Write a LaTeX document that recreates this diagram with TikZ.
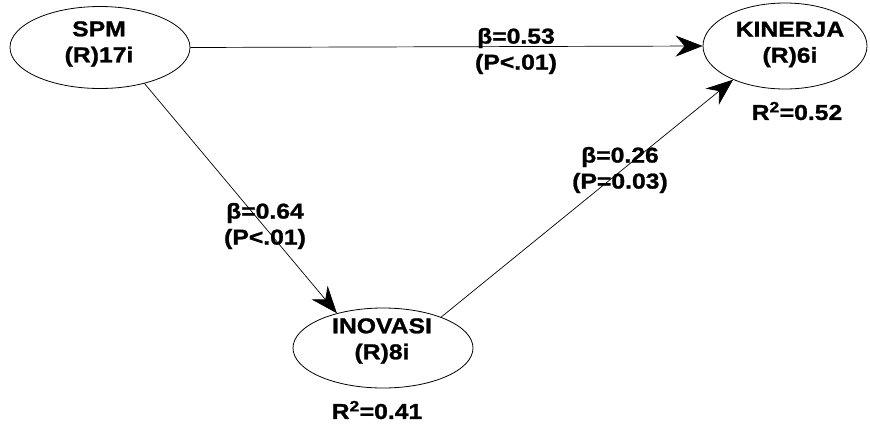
\documentclass[tikz,border=0pt]{standalone}
\usepackage{fontspec}
\setmainfont{Liberation Sans}[FakeStretch=1.15,BoldFeatures={FakeBold=1.2}]
\usetikzlibrary{shapes.geometric,arrows.meta}
\begin{document}
\begin{tikzpicture}[x=1pt,y=-1pt,
  lat/.style={ellipse,draw=black,line width=0.8pt,inner sep=0pt},
  txt/.style={font=\fontsize{21.5}{26}\selectfont\bfseries,align=center,inner sep=0pt},
  path/.style={draw=black,line width=0.7pt,-{Stealth[length=27pt,width=21pt,inset=9pt]}}]
\useasboundingbox (0,0) rectangle (870,424);
\node[lat,minimum width=180pt,minimum height=82pt] (spm) at (100,47.5) {};
\node[lat,minimum width=164pt,minimum height=86pt] (kin) at (785,46) {};
\node[lat,minimum width=180pt,minimum height=80pt] (inov) at (383,348) {};
\node[txt] (spmt) at (99,44) {SPM\\(R)17i};
\node[txt] (kint) at (790,44.5) {KINERJA\\(R)6i};
\node[txt] (inovt) at (382,341) {INOVASI\\(R)8i};
\node[txt] (r1) at (797,111) {R\textsuperscript{2}=0.52};
\node[txt] (r2) at (377,410) {R\textsuperscript{2}=0.41};
\draw[path] (spm.0) -- (kin.180);
\draw[path] (spm.-39.5) -- (inov.143);
\draw[path] (inov.28.7) -- (kin.213.4);
\node[txt] (l1) at (516,51) {β=0.53\\(P<.01)};
\node[txt] (l2) at (620,170) {β=0.26\\(P=0.03)};
\node[txt] (l3) at (265,226) {β=0.64\\(P<.01)};
\end{tikzpicture}
\end{document}
